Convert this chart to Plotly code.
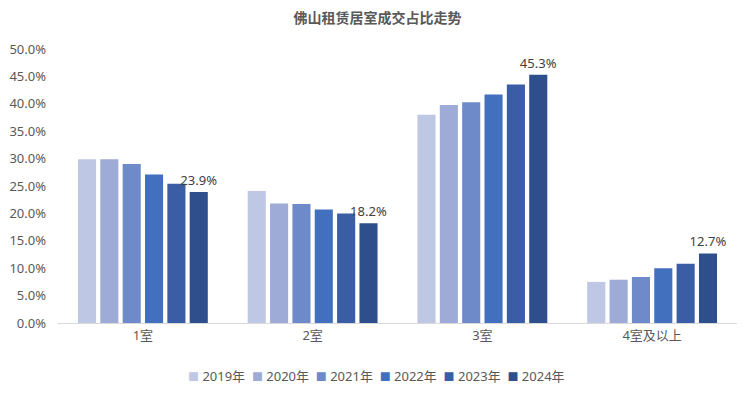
import plotly.graph_objects as go

categories = ["1室", "2室", "3室", "4室及以上"]
years = ["2019年", "2020年", "2021年", "2022年", "2023年", "2024年"]
v2019 = [0.299, 0.241, 0.380, 0.075]
v2020 = [0.299, 0.218, 0.398, 0.079]
v2021 = [0.290, 0.217, 0.403, 0.084]
v2022 = [0.271, 0.207, 0.417, 0.100]
v2023 = [0.254, 0.200, 0.435, 0.108]
v2024 = [0.239, 0.182, 0.453, 0.127]
series = [v2019, v2020, v2021, v2022, v2023, v2024]
colors = ["#BEC7E3", "#9DABD6", "#6E8AC8", "#4270BE", "#3A5DA6", "#2F4E8C"]

font_family = "Noto Sans, Noto Sans CJK SC, sans-serif"

W, H = 739, 389
ML, MR, MT, MB = 50, 10, 41, 74

fig = go.Figure()
for i, (name, vals) in enumerate(zip(years, series)):
    last = i == len(series) - 1
    fig.add_trace(go.Bar(
        name=name, x=categories, y=vals,
        marker=dict(color=colors[i], line=dict(width=0)),
        text=[f"{v*100:.1f}%" for v in vals] if last else None,
        textposition="outside" if last else None,
        constraintext="none",
        textangle=0,
        textfont=dict(size=13, color="#404040", family=font_family),
        cliponaxis=False,
        showlegend=False,
    ))

# compact legend drawn as one text line (colored squares + year names)
legend_text = "  ".join(
    f"<span style='color:{c}; font-size:11px'>■</span> {y}" for y, c in zip(years, colors)
)
plot_w = W - ML - MR
plot_h = H - MT - MB
fig.add_annotation(
    text=legend_text, xref="paper", yref="paper",
    x=(368 - ML) / plot_w, y=-53 / plot_h, xanchor="center", yanchor="middle",
    showarrow=False, font=dict(size=13, color="#595959", family=font_family),
)

fig.update_layout(
    width=W, height=H,
    margin=dict(l=ML, r=MR, t=MT, b=MB, autoexpand=False),
    paper_bgcolor="white", plot_bgcolor="white",
    barmode="group", bargap=0.21, bargroupgap=0.19,
    font=dict(family=font_family, size=13, color="#595959"),
    title=dict(text="<b>佛山租赁居室成交占比走势</b>", x=0.5, xanchor="center",
               y=0.974, yanchor="middle",
               font=dict(size=14, color="#595959", family=font_family)),
    showlegend=False,
)
fig.update_yaxes(range=[0, 0.5], dtick=0.05, tickformat=".1%", showgrid=False,
                 zeroline=False, showline=False, ticks="", ticklabelstandoff=11,
                 automargin=False)
fig.update_xaxes(showline=True, linecolor="#D9D9D9", linewidth=1, ticks="",
                 showgrid=False, automargin=False)

fig.write_html("out.html")
